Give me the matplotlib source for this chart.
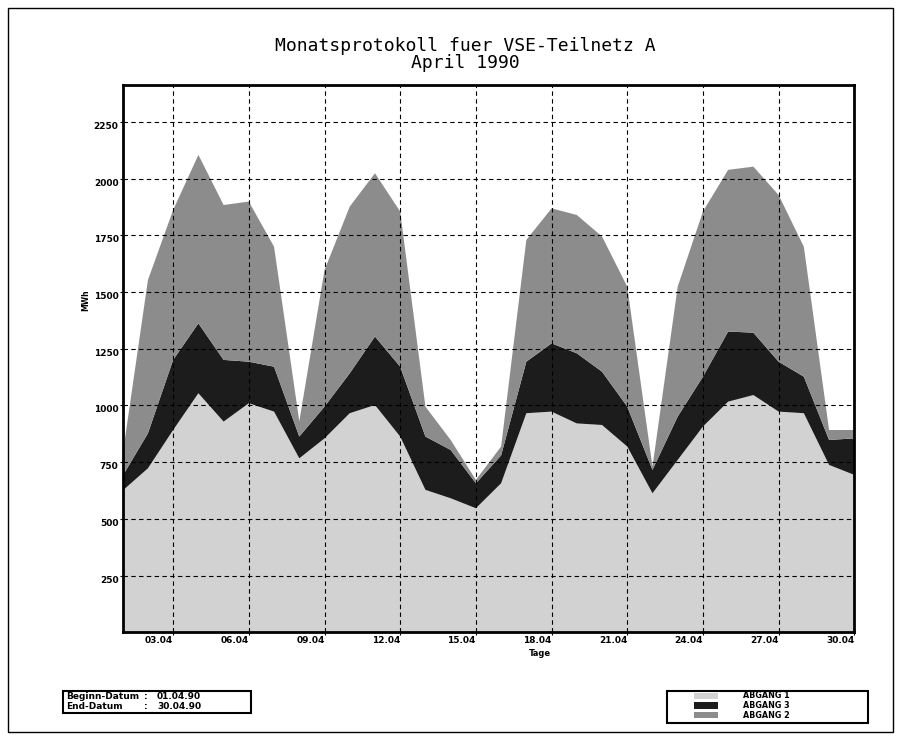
import numpy as np
import matplotlib.pyplot as plt
from matplotlib.patches import Rectangle

# Daten (MWh pro Tag), 01.04. bis 30.04.1990
tage = np.arange(30)
abgang_1 = [625, 723, 892, 1054, 929, 1010, 973, 767, 855, 966,
            1002, 863, 628, 591, 547, 657, 966, 973, 921, 914,
            819, 613, 760, 907, 1017, 1046, 973, 966, 738, 694]
abgang_3 = [65, 154, 309, 308, 272, 183, 198, 96, 140, 176,
            302, 308, 235, 213, 110, 123, 227, 301, 309, 235,
            176, 103, 191, 220, 309, 275, 220, 161, 110, 161]
abgang_2 = [95, 676, 661, 743, 683, 706, 529, 67, 602, 735,
            720, 684, 132, 44, 15, 39, 537, 595, 610, 596,
            529, 14, 573, 728, 713, 732, 735, 573, 44, 37]

x_ticks = [2, 5, 8, 11, 14, 17, 20, 23, 26, 29]
x_labels = ['03.04', '06.04', '09.04', '12.04', '15.04',
            '18.04', '21.04', '24.04', '27.04', '30.04']
y_ticks = [250, 500, 750, 1000, 1250, 1500, 1750, 2000, 2250]

c_hell = '#d2d2d2'
c_schwarz = '#1c1c1c'
c_grau = '#8c8c8c'

W, H = 901, 740
fig = plt.figure(figsize=(W / 100, H / 100), dpi=100)
ax = fig.add_axes([122.7 / W, (H - 632.3) / H, 731.6 / W, 547.3 / H])

ax.stackplot(tage, abgang_1, abgang_3, abgang_2,
             colors=[c_hell, c_schwarz, c_grau], linewidth=0)
ax.set_xlim(0, 29)
ax.set_ylim(0, 2413)

ax.set_xticks(x_ticks)
ax.set_xticklabels(x_labels, ha='right', fontsize=6.5, fontweight='bold')
ax.set_yticks(y_ticks)
ax.set_yticklabels([str(v) for v in y_ticks], va='top', fontsize=6.5, fontweight='bold')
ax.tick_params(axis='both', length=2, width=0.8, direction='out', pad=1)

ax.set_axisbelow(False)
ax.grid(True, color='black', linestyle=(0, (4, 3)), linewidth=0.8)
for s in ax.spines.values():
    s.set_linewidth(2)

# Titel und Achsenbeschriftung
fig.text(465 / W, 1 - 46 / H, 'Monatsprotokoll fuer VSE-Teilnetz A', ha='center', va='center',
         family='DejaVu Sans Mono', fontsize=13)
fig.text(465 / W, 1 - 63.5 / H, 'April 1990', ha='center', va='center',
         family='DejaVu Sans Mono', fontsize=13)
fig.text(540 / W, 1 - 654 / H, 'Tage', ha='center', va='center', fontsize=6, fontweight='bold')
fig.text(86 / W, 1 - 300 / H, 'MWh', ha='center', va='center', rotation=90,
         fontsize=5.5, fontweight='bold')

# Rahmen
fig.patches.append(Rectangle((8 / W, 1 - 732 / H), 885 / W, 724 / H, transform=fig.transFigure,
                             fill=False, edgecolor='black', linewidth=1))

# Datumsbox
fig.patches.append(Rectangle((63 / W, 1 - 712.7 / H), 187.7 / W, 21.7 / H, transform=fig.transFigure,
                             fill=False, edgecolor='black', linewidth=1.5))
for y, name, datum in [(696.5, 'Beginn-Datum', '01.04.90'), (706.5, 'End-Datum', '30.04.90')]:
    fig.text(66 / W, 1 - y / H, name, ha='left', va='center', fontsize=6.5, fontweight='bold')
    fig.text(146 / W, 1 - y / H, ':', ha='center', va='center', fontsize=6.5, fontweight='bold')
    fig.text(157 / W, 1 - y / H, datum, ha='left', va='center', fontsize=6.5, fontweight='bold')

# Legende
fig.patches.append(Rectangle((666.7 / W, 1 - 723 / H), 201.6 / W, 32 / H, transform=fig.transFigure,
                             fill=False, edgecolor='black', linewidth=1.5))
for y, name, col in [(696, 'ABGANG 1', c_hell), (705.7, 'ABGANG 3', c_schwarz), (715, 'ABGANG 2', c_grau)]:
    fig.patches.append(Rectangle((694.3 / W, 1 - (y + 3.3) / H), 24 / W, 6.6 / H,
                                 transform=fig.transFigure, facecolor=col, edgecolor='none'))
    fig.text(742.7 / W, 1 - y / H, name, ha='left', va='center', fontsize=5.8, fontweight='bold')

fig.savefig('out.png', dpi=100)
